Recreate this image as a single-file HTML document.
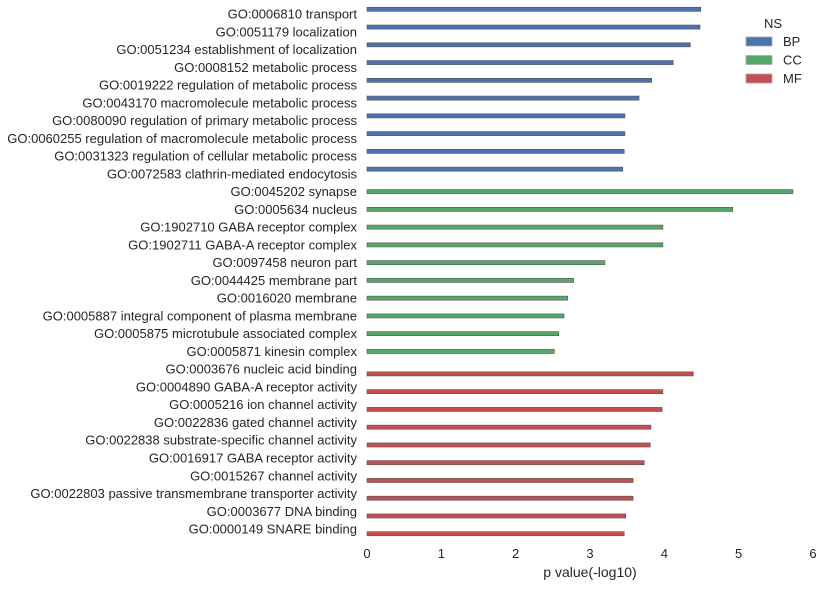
<!DOCTYPE html>
<html><head><meta charset="utf-8"><style>
body{margin:0;background:#fff;font-family:"Liberation Sans",sans-serif}
svg text{font-family:"Liberation Sans",sans-serif;fill:#262626}
</style></head><body>
<svg id="c" width="824" height="587"></svg>
<script>
const categories=["GO:0006810 transport","GO:0051179 localization","GO:0051234 establishment of localization","GO:0008152 metabolic process","GO:0019222 regulation of metabolic process","GO:0043170 macromolecule metabolic process","GO:0080090 regulation of primary metabolic process","GO:0060255 regulation of macromolecule metabolic process","GO:0031323 regulation of cellular metabolic process","GO:0072583 clathrin-mediated endocytosis","GO:0045202 synapse","GO:0005634 nucleus","GO:1902710 GABA receptor complex","GO:1902711 GABA-A receptor complex","GO:0097458 neuron part","GO:0044425 membrane part","GO:0016020 membrane","GO:0005887 integral component of plasma membrane","GO:0005875 microtubule associated complex","GO:0005871 kinesin complex","GO:0003676 nucleic acid binding","GO:0004890 GABA-A receptor activity","GO:0005216 ion channel activity","GO:0022836 gated channel activity","GO:0022838 substrate-specific channel activity","GO:0016917 GABA receptor activity","GO:0015267 channel activity","GO:0022803 passive transmembrane transporter activity","GO:0003677 DNA binding","GO:0000149 SNARE binding"];
const groups=["BP","BP","BP","BP","BP","BP","BP","BP","BP","BP","CC","CC","CC","CC","CC","CC","CC","CC","CC","CC","MF","MF","MF","MF","MF","MF","MF","MF","MF","MF"];
const values=[4.49,4.48,4.35,4.12,3.83,3.66,3.47,3.47,3.46,3.44,5.73,4.92,3.98,3.98,3.20,2.78,2.70,2.65,2.58,2.52,4.39,3.98,3.97,3.82,3.81,3.73,3.58,3.58,3.48,3.46];
const hues=["BP","CC","MF"];
const colors={BP:"#4C72B0",CC:"#55A868",MF:"#C44E52"};
const xTicks=[0,1,2,3,4,5,6];
const svg=document.getElementById('c');const NS="http://www.w3.org/2000/svg";
const x0=367,x1=813,xmax=6;const X=v=>x0+(x1-x0)*v/xmax;
const y0=14,band=17.76;const Y=i=>y0+i*band;const bw=4.7;
function mk(t,a,p){const e=document.createElementNS(NS,t);for(const k in a)e.setAttribute(k,a[k]);(p||svg).appendChild(e);return e;}
categories.forEach((c,i)=>{
 const t=mk('text',{x:357,y:Y(i)+4.5,'text-anchor':'end','font-size':13});t.textContent=c;
 
 
 const h=hues.indexOf(groups[i]);const cy=Y(i)+(h-1)*bw;
 const r=mk('rect',{x:x0,y:cy-bw/2+0.3,width:X(values[i])-x0,height:bw-0.6,fill:colors[groups[i]],stroke:'#555','stroke-width':0.6});
 
 
});
xTicks.forEach(v=>{const t=mk('text',{x:X(v),y:558,'text-anchor':'middle','font-size':13});t.textContent=v;
 
 });
const xt=mk('text',{x:590,y:577,'text-anchor':'middle','font-size':14});xt.textContent="p value(-log10)";


const lt=mk('text',{x:773,y:28,'text-anchor':'middle','font-size':13});lt.textContent="NS";


hues.forEach((h,k)=>{const g=mk('g',{});
 
 
 mk('rect',{x:746,y:37+k*18.5,width:26,height:9,fill:colors[h],stroke:'#aaa','stroke-width':0.8},g);
 const t=mk('text',{x:783,y:46+k*18.5,'font-size':13},g);t.textContent=h;});
</script>
</body></html>
